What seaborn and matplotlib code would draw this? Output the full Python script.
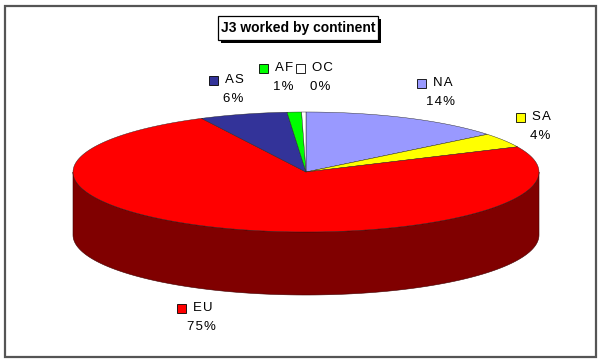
import numpy as np
import matplotlib
matplotlib.use("Agg")
import matplotlib.pyplot as plt
import seaborn as sns
from matplotlib.patches import Polygon, Rectangle

sns.set_theme(style="white")
plt.rcParams["font.family"] = ["Liberation Sans", "DejaVu Sans"]

# continents, clockwise from 12 o'clock (values in %)
continents = ["NA", "SA", "EU", "AS", "AF", "OC"]
shares = [14.2, 3.9, 74.5, 6.1, 1.0, 0.3]
labels = ["14%", "4%", "75%", "6%", "1%", "0%"]
top_colors = ["#9999FF", "#FFFF00", "#FF0000", "#333399", "#00FF00", "#FFFFFF"]
side_colors = ["#4C4C80", "#808000", "#800000", "#1A1A4C", "#008000", "#808080"]

# label anchor (legend key position) in pixels
label_pos = [(421, 83), (520, 117), (181, 308), (213, 80), (263, 68), (300, 68)]

cx, cy, a, b, depth = 306, 172, 233, 60, 63

fig = plt.figure(figsize=(6, 3.64), dpi=100)
ax = fig.add_axes([0, 0, 1, 1])
ax.set_xlim(0, 600)
ax.set_ylim(364, 0)
ax.axis("off")

# outer border
ax.add_patch(Rectangle((4.5, 5.5), 591, 351, fill=False, ec="#555555", lw=1.6))


def pt(theta_deg, dy=0):
    t = np.radians(theta_deg)
    return cx + a * np.cos(t), cy - b * np.sin(t) + dy


# angles (true circle), clockwise from 90 deg
bounds = 90 - np.concatenate([[0], np.cumsum(shares)]) * 3.6

# sides (only front half, angles in [-180, 0])
for i in range(len(shares)):
    t0, t1 = bounds[i + 1], bounds[i]
    for off in (0, -360, 360):
        lo, hi = max(t0 + off, -180), min(t1 + off, 0)
        if hi > lo:
            th = np.linspace(lo, hi, 120)
            top = [pt(t) for t in th]
            bot = [pt(t, depth) for t in th[::-1]]
            ax.add_patch(Polygon(top + bot, closed=True, fc=side_colors[i],
                                 ec="#400000", lw=0.4))

# top faces
for i in range(len(shares)):
    th = np.linspace(bounds[i], bounds[i + 1], 200)
    verts = [(cx, cy)] + [pt(t) for t in th]
    ax.add_patch(Polygon(verts, closed=True, fc=top_colors[i], ec="#202020", lw=0.3))

# labels with legend key
hs = "\u200a"
for name, lab, col, (x, y) in zip(continents, labels, top_colors, label_pos):
    ax.add_patch(Rectangle((x - 4.5, y - 4.5), 9, 9, fc=col, ec="black", lw=0.6))
    ax.text(x + 12, y, hs.join(name), fontsize=9.5, va="center", ha="left", color="black")
    ax.text(x + 20, y + 19, hs.join(lab), fontsize=9.5, va="center", ha="center",
            color="black")

# title box with shadow
ax.add_patch(Rectangle((221, 19), 160, 24, fc="black", ec="black", lw=0))
ax.add_patch(Rectangle((218, 16), 160, 24, fc="white", ec="black", lw=0.9))
ax.text(298, 28, "J3 worked by continent", fontsize=10, fontweight="bold",
        ha="center", va="center", color="black")

fig.savefig("out.png", dpi=100)
